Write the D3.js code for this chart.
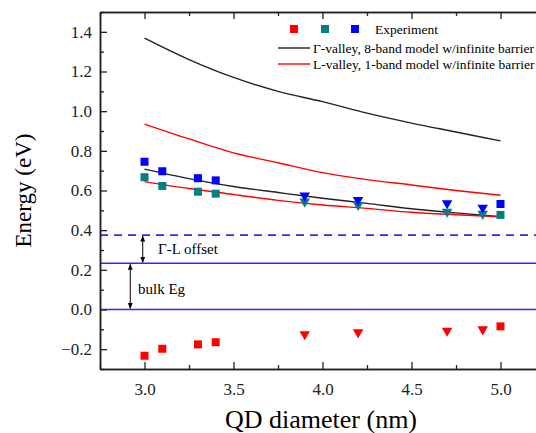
<!DOCTYPE html>
<html>
<head>
<meta charset="utf-8">
<script src="https://cdn.jsdelivr.net/npm/d3@7"></script>
<style>
  body { margin: 0; background: #fff; }
  svg { display: block; font-family: "Liberation Serif", "Times New Roman", serif; }
</style>
</head>
<body>
<div class="chart"></div>
<script>
'use strict'

// model curves, sampled along QD diameter (nm)
const curveD = [3.0, 3.25, 3.5, 3.75, 4.0, 4.25, 4.5, 4.75, 5.0]
const gammaHigh = [1.368, 1.26, 1.17, 1.10, 1.048, 0.99, 0.94, 0.895, 0.85]
const lHigh = [0.935, 0.86, 0.79, 0.74, 0.69, 0.655, 0.628, 0.60, 0.576]
const gammaLow = [0.708, 0.66, 0.62, 0.59, 0.561, 0.535, 0.508, 0.487, 0.468]
const lLow = [0.645, 0.61, 0.58, 0.55, 0.527, 0.51, 0.49, 0.478, 0.468]

// experiment, squares
const sqD = [3.0, 3.1, 3.3, 3.4, 5.0]
const sqBlue = [0.745, 0.697, 0.662, 0.651, 0.532]
const sqTeal = [0.667, 0.623, 0.594, 0.584, 0.477]
const sqRed = [-0.233, -0.198, -0.176, -0.165, -0.085]

// experiment, triangles
const triD = [3.9, 4.2, 4.7, 4.9]
const triBlue = [0.574, 0.552, 0.536, 0.513]
const triTeal = [0.544, 0.527, 0.493, 0.482]
const triRed = [-0.125, -0.115, -0.107, -0.100]

// horizontal reference levels
const levelOffset = 0.375
const levelBulk = 0.233
const levelZero = 0.0

const xTicks = [3.0, 3.5, 4.0, 4.5, 5.0]
const yTicks = [-0.2, 0.0, 0.2, 0.4, 0.6, 0.8, 1.0, 1.2, 1.4]

const width = 536
const height = 433
const m = { left: 100, top: 12, bottom: 369 }

const x = d3.scaleLinear().domain([2.75, 5.25]).range([m.left, m.left + 445])
const y = d3.scaleLinear().domain([-0.3, 1.5]).range([m.bottom, m.top])

const svg = d3.select('.chart').append('svg')
    .attr('width', width)
    .attr('height', height)

const RED = '#ff0000'
const TEAL = '#008080'
const BLUE = '#0000ff'
const LINE_BLUE = '#2a2aff'
const AXIS = '#222'
const SERIF = '"Liberation Serif", "Times New Roman", serif'

// reference levels
function hline(v, dash) {
  svg.append('line')
      .attr('x1', x(2.75)).attr('x2', x(5.25))
      .attr('y1', y(v)).attr('y2', y(v))
      .style('stroke', LINE_BLUE)
      .style('stroke-width', 1.6)
      .style('stroke-dasharray', dash || null)
}
hline(levelOffset, '8,6')
hline(levelBulk)
hline(levelZero)

// double arrows
svg.append('defs').call(defs => {
  defs.append('marker')
      .attr('id', 'ah')
      .attr('viewBox', '0 0 10 10')
      .attr('refX', 9).attr('refY', 5)
      .attr('markerWidth', 6).attr('markerHeight', 6)
      .attr('orient', 'auto-start-reverse')
    .append('path')
      .attr('d', 'M0,1 L10,5 L0,9 Z')
      .style('fill', '#000')
})

function darrow(xv, v0, v1) {
  svg.append('line')
      .attr('x1', x(xv)).attr('x2', x(xv))
      .attr('y1', y(v0) + 1).attr('y2', y(v1) - 1)
      .attr('marker-start', 'url(#ah)')
      .attr('marker-end', 'url(#ah)')
      .style('stroke', '#000')
      .style('stroke-width', 1)
}
darrow(2.99, levelOffset, levelBulk)
darrow(2.92, levelBulk, levelZero)

svg.append('text')
    .attr('x', 158).attr('y', 254)
    .style('font-size', '15px')
    .text('\u0393-L offset')
svg.append('text')
    .attr('x', 138).attr('y', 294)
    .style('font-size', '15px')
    .text('bulk Eg')

// model curves
const line = d3.line()
    .x((d, i) => x(curveD[i]))
    .y(d => y(d))
    .curve(d3.curveMonotoneX)

const curves = [
  { vals: gammaHigh, color: '#222' },
  { vals: lHigh, color: RED },
  { vals: gammaLow, color: '#222' },
  { vals: lLow, color: RED }
]
svg.selectAll('.curve')
    .data(curves)
  .enter().append('path')
    .attr('class', 'curve')
    .attr('d', d => line(d.vals))
    .style('fill', 'none')
    .style('stroke', d => d.color)
    .style('stroke-width', 1.4)

// markers
function squares(ds, vs, color) {
  svg.append('g').selectAll('rect')
      .data(vs)
    .enter().append('rect')
      .attr('x', (d, i) => x(ds[i]) - 4)
      .attr('y', d => y(d) - 4)
      .attr('width', 8).attr('height', 8)
      .style('fill', color)
}
const tri = d3.symbol().type(d3.symbolTriangle).size(48)
function triangles(ds, vs, color) {
  svg.append('g').selectAll('path')
      .data(vs)
    .enter().append('path')
      .attr('d', tri)
      .attr('transform', (d, i) => 'translate(' + x(ds[i]) + ',' + y(d) + ') rotate(180)')
      .style('fill', color)
}
squares(sqD, sqRed, RED)
squares(sqD, sqTeal, TEAL)
squares(sqD, sqBlue, BLUE)
triangles(triD, triRed, RED)
triangles(triD, triTeal, TEAL)
triangles(triD, triBlue, BLUE)

// axes
const xMinor = d3.range(2.75, 5.26, 0.25).filter(v => Math.abs(v * 2 - Math.round(v * 2)) > 0.01)
const yMinor = d3.range(-0.3, 1.51, 0.2).map(v => +v.toFixed(2))

function styleAxis(g) {
  g.attr('font-family', SERIF)
  g.select('.domain').style('stroke', AXIS).style('stroke-width', 1.5)
  g.selectAll('.tick line').style('stroke', AXIS).style('stroke-width', 1.3)
  g.selectAll('.tick text')
      .style('font-family', SERIF)
      .style('font-size', '17px')
      .style('fill', '#222')
}

svg.append('g')
    .attr('transform', 'translate(0,' + m.bottom + ')')
    .call(d3.axisBottom(x).tickValues(xTicks).tickFormat(d3.format('.1f')).tickSizeInner(-7).tickSizeOuter(0).tickPadding(14))
    .call(styleAxis)
svg.append('g')
    .attr('transform', 'translate(0,' + m.bottom + ')')
    .call(d3.axisBottom(x).tickValues(xMinor).tickFormat('').tickSizeInner(-4).tickSizeOuter(0))
    .call(styleAxis)

svg.append('g')
    .attr('transform', 'translate(0,' + m.top + ')')
    .call(d3.axisTop(x).tickValues(xTicks).tickFormat('').tickSizeInner(-7).tickSizeOuter(0))
    .call(styleAxis)
svg.append('g')
    .attr('transform', 'translate(0,' + m.top + ')')
    .call(d3.axisTop(x).tickValues(xMinor).tickFormat('').tickSizeInner(-4).tickSizeOuter(0))
    .call(styleAxis)

svg.append('g')
    .attr('transform', 'translate(' + m.left + ',0)')
    .call(d3.axisLeft(y).tickValues(yTicks).tickFormat(d3.format('.1f')).tickSizeInner(-7).tickSizeOuter(0).tickPadding(8))
    .call(styleAxis)
svg.append('g')
    .attr('transform', 'translate(' + m.left + ',0)')
    .call(d3.axisLeft(y).tickValues(yMinor).tickFormat('').tickSizeInner(-4).tickSizeOuter(0))
    .call(styleAxis)

// axis titles
svg.append('text')
    .attr('transform', 'translate(31,' + ((m.top + m.bottom) / 2) + ') rotate(-90)')
    .style('text-anchor', 'middle')
    .style('font-size', '23px')
    .text('Energy (eV)')
svg.append('text')
    .attr('x', 321).attr('y', 428)
    .style('text-anchor', 'middle')
    .style('font-size', '26px')
    .text('QD diameter (nm)')

// legend
const lg = svg.append('g').style('font-size', '13.5px')
;[[294, RED], [325, TEAL], [355, BLUE]].forEach(([lx, c]) => {
  lg.append('rect')
      .attr('x', lx - 4).attr('y', 25).attr('width', 8).attr('height', 8)
      .style('fill', c)
})
lg.append('text').attr('x', 375).attr('y', 34).text('Experiment')
lg.append('line')
    .attr('x1', 278).attr('x2', 310).attr('y1', 48).attr('y2', 48)
    .style('stroke', '#222').style('stroke-width', 1.4)
lg.append('text').attr('x', 313).attr('y', 53).text('\u0393-valley, 8-band model w/infinite barrier')
lg.append('line')
    .attr('x1', 278).attr('x2', 310).attr('y1', 64).attr('y2', 64)
    .style('stroke', RED).style('stroke-width', 1.4)
lg.append('text').attr('x', 313).attr('y', 69).text('L-valley, 1-band model w/infinite barrier')
</script>
</body>
</html>
